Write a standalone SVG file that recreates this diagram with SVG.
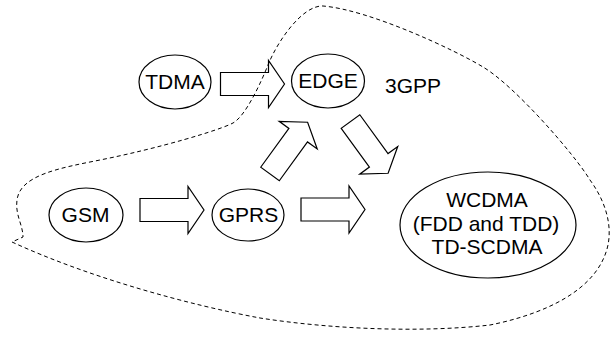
<svg xmlns="http://www.w3.org/2000/svg" width="611" height="343" viewBox="0 0 611 343">
  <style>
    .node { fill: #fff; stroke: #000; stroke-width: 1.2; }
    .label { font-family: "Liberation Sans", Arial, Helvetica, sans-serif; font-size: 21px; fill: #000; text-anchor: middle; }
    .flow { fill: #fff; stroke: #000; stroke-width: 1.2; stroke-linejoin: miter; }
    .boundary { fill: none; stroke: #000; stroke-width: 1; stroke-dasharray: 4 3; }
  </style>
  <defs>
    <!-- hollow block arrow pointing along +x, tail centred on the origin -->
    <path id="block-arrow" d="M0,-11.5 H48 V-23.5 L64,0 L48,23.5 V11.5 H0 Z"/>
  </defs>

  <rect width="611" height="343" fill="#fff"/>

  <!-- evolution arrows -->
  <g id="connectors">
    <use href="#block-arrow" class="flow" transform="translate(220.5,84)"/>
    <use href="#block-arrow" class="flow" transform="translate(140,210)"/>
    <use href="#block-arrow" class="flow" transform="translate(301,209.5)"/>
    <use href="#block-arrow" class="flow" transform="translate(270,174) rotate(-54)"/>
    <use href="#block-arrow" class="flow" transform="translate(350.5,121.5) rotate(54)"/>
  </g>

  <g id="tdma">
    <ellipse class="node" cx="175" cy="82" rx="36" ry="27"/>
    <text class="label" x="175" y="88.5">TDMA</text>
  </g>
  <g id="edge">
    <ellipse class="node" cx="328" cy="81" rx="36.5" ry="27"/>
    <text class="label" x="328" y="87.5">EDGE</text>
  </g>
  <g id="gsm">
    <ellipse class="node" cx="86" cy="215" rx="37" ry="27"/>
    <text class="label" x="85.5" y="221.5">GSM</text>
  </g>
  <g id="gprs">
    <ellipse class="node" cx="248" cy="215" rx="36" ry="26"/>
    <text class="label" x="248.5" y="221.5">GPRS</text>
  </g>
  <g id="wcdma">
    <ellipse class="node" cx="488" cy="225" rx="88" ry="53"/>
    <text class="label" x="487" y="207">WCDMA</text>
    <text class="label" x="486" y="230.5">(FDD and TDD)</text>
    <text class="label" x="487" y="254">TD-SCDMA</text>
  </g>

  <!-- 3GPP scope: dashed free-form outline with its label -->
  <g id="scope-3gpp">
    <path class="boundary" d="M12,242
      C90,278 190,305 260,318
      C330,329 420,333 490,325
      C540,315 598,292 608,245
      C612,225 606,202 590,180
      C575,155 515,86 483,67
      C455,50 370,10 323,6
      C303,5 278,40 268,65
      C262,80 246,116 233,123
      C220,130 160,148 100,160
      C60,168 20,175 17,200
      C15,215 23,225 23,237 Z"/>
    <text class="label" x="385" y="93" style="text-anchor:start">3GPP</text>
  </g>
</svg>
